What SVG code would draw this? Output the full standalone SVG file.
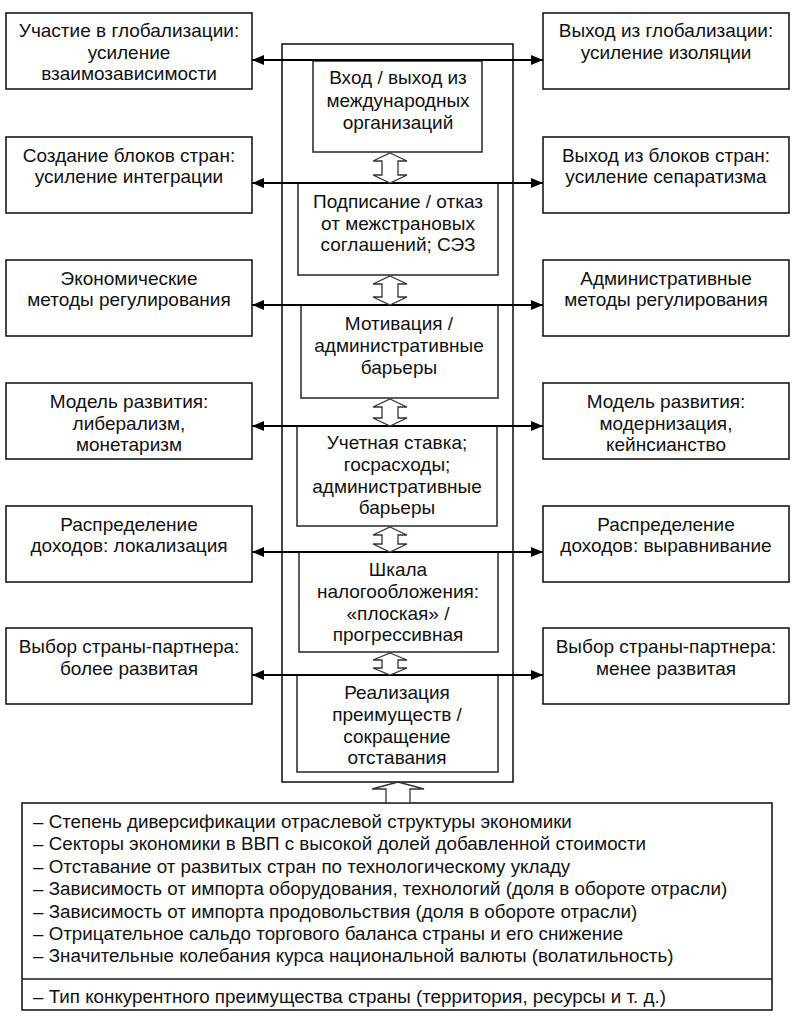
<svg xmlns="http://www.w3.org/2000/svg" width="794" height="1025" viewBox="0 0 794 1025">
<style>
.box{fill:#fff;stroke:#1a1a1a;stroke-width:1.6}
.ibox{fill:#fff;stroke:#333;stroke-width:1.6}
.frame{fill:none;stroke:#1a1a1a;stroke-width:1.6}
.t{font-family:"Liberation Sans",Arial,sans-serif;font-size:19px;fill:#111;text-anchor:middle}
.b{font-family:"Liberation Sans",Arial,sans-serif;font-size:18.8px;fill:#111}
.con{stroke:#000;stroke-width:2;fill:none;marker-start:url(#ah);marker-end:url(#ah)}
.hol{fill:#fff;stroke:#333;stroke-width:1.3}
</style>
<defs>
<marker id="ah" viewBox="0 0 12 10" refX="12" refY="5" markerWidth="12" markerHeight="10" markerUnits="userSpaceOnUse" orient="auto-start-reverse">
<path d="M0,0 L12,5 L0,10 Z" fill="#000"/>
</marker>
</defs>
<rect width="794" height="1025" fill="#fff"/>

<rect id="frame" class="frame" x="282" y="44" width="231" height="738"/>

<g id="left1"><rect class="box" x="6" y="13" width="246" height="76"/>
<text class="t" x="129" y="37">Участие в глобализации:</text><text class="t" x="129" y="59">усиление</text><text class="t" x="129" y="80">взаимозависимости</text></g>
<g id="left2"><rect class="box" x="6" y="137" width="246" height="76"/>
<text class="t" x="129" y="162">Создание блоков стран:</text><text class="t" x="129" y="183">усиление интеграции</text></g>
<g id="left3"><rect class="box" x="6" y="260" width="246" height="76"/>
<text class="t" x="129" y="285">Экономические</text><text class="t" x="129" y="306">методы регулирования</text></g>
<g id="left4"><rect class="box" x="6" y="383" width="246" height="76"/>
<text class="t" x="129" y="408">Модель развития:</text><text class="t" x="129" y="430">либерализм,</text><text class="t" x="129" y="451">монетаризм</text></g>
<g id="left5"><rect class="box" x="6" y="506" width="246" height="76"/>
<text class="t" x="129" y="531">Распределение</text><text class="t" x="129" y="552">доходов: локализация</text></g>
<g id="left6"><rect class="box" x="6" y="628" width="246" height="76"/>
<text class="t" x="129" y="653">Выбор страны-партнера:</text><text class="t" x="129" y="675">более развитая</text></g>

<g id="right1"><rect class="box" x="543" y="13" width="246" height="76"/>
<text class="t" x="666" y="37">Выход из глобализации:</text><text class="t" x="666" y="59">усиление изоляции</text></g>
<g id="right2"><rect class="box" x="543" y="137" width="246" height="76"/>
<text class="t" x="666" y="162">Выход из блоков стран:</text><text class="t" x="666" y="183">усиление сепаратизма</text></g>
<g id="right3"><rect class="box" x="543" y="260" width="246" height="76"/>
<text class="t" x="666" y="285">Административные</text><text class="t" x="666" y="306">методы регулирования</text></g>
<g id="right4"><rect class="box" x="543" y="383" width="246" height="76"/>
<text class="t" x="666" y="408">Модель развития:</text><text class="t" x="666" y="430">модернизация,</text><text class="t" x="666" y="451">кейнсианство</text></g>
<g id="right5"><rect class="box" x="543" y="506" width="246" height="76"/>
<text class="t" x="666" y="531">Распределение</text><text class="t" x="666" y="552">доходов: выравнивание</text></g>
<g id="right6"><rect class="box" x="543" y="628" width="246" height="76"/>
<text class="t" x="666" y="653">Выбор страны-партнера:</text><text class="t" x="666" y="675">менее развитая</text></g>

<g id="mid1"><rect class="ibox" x="313" y="61" width="169" height="91"/>
<text class="t" x="398" y="84">Вход / выход из</text><text class="t" x="398" y="107">международных</text><text class="t" x="398" y="129">организаций</text></g>
<g id="mid2"><rect class="ibox" x="298" y="183" width="200" height="92"/>
<text class="t" x="398" y="208">Подписание / отказ</text><text class="t" x="398" y="230">от межстрановых</text><text class="t" x="398" y="251">соглашений; СЭЗ</text></g>
<g id="mid3"><rect class="ibox" x="301" y="305" width="197" height="93"/>
<text class="t" x="399" y="330">Мотивация /</text><text class="t" x="399" y="352">административные</text><text class="t" x="399" y="374">барьеры</text></g>
<g id="mid4"><rect class="ibox" x="297" y="426" width="200" height="100"/>
<text class="t" x="397" y="449">Учетная ставка;</text><text class="t" x="397" y="471">госрасходы;</text><text class="t" x="397" y="493">административные</text><text class="t" x="397" y="514">барьеры</text></g>
<g id="mid5"><rect class="ibox" x="299" y="552" width="199" height="100"/>
<text class="t" x="398" y="576">Шкала</text><text class="t" x="398" y="598">налогообложения:</text><text class="t" x="398" y="620">«плоская» /</text><text class="t" x="398" y="641">прогрессивная</text></g>
<g id="mid6"><rect class="ibox" x="297" y="675" width="201" height="97"/>
<text class="t" x="397" y="699">Реализация</text><text class="t" x="397" y="721">преимуществ /</text><text class="t" x="397" y="743">сокращение</text><text class="t" x="397" y="764">отставания</text></g>

<g id="factors"><rect class="box" x="22" y="803" width="750" height="207"/>
<line x1="22" y1="979" x2="772" y2="979" stroke="#1a1a1a" stroke-width="1.6"/>
<text class="b" x="33" y="828">– Степень диверсификации отраслевой структуры экономики</text>
<text class="b" x="33" y="850">– Секторы экономики в ВВП с высокой долей добавленной стоимости</text>
<text class="b" x="33" y="873">– Отставание от развитых стран по технологическому укладу</text>
<text class="b" x="33" y="895">– Зависимость от импорта оборудования, технологий (доля в обороте отрасли)</text>
<text class="b" x="33" y="918">– Зависимость от импорта продовольствия (доля в обороте отрасли)</text>
<text class="b" x="33" y="940">– Отрицательное сальдо торгового баланса страны и его снижение</text>
<text class="b" x="33" y="962">– Значительные колебания курса национальной валюты (волатильность)</text>
<text class="b" x="33" y="1003">– Тип конкурентного преимущества страны (территория, ресурсы и т. д.)</text>
</g>

<g id="connectors">
<line class="con" x1="252" y1="60" x2="543" y2="60"/>
<line class="con" x1="252" y1="183" x2="543" y2="183"/>
<line class="con" x1="252" y1="305" x2="543" y2="305"/>
<line class="con" x1="252" y1="426" x2="543" y2="426"/>
<line class="con" x1="252" y1="552" x2="543" y2="552"/>
<line class="con" x1="252" y1="675" x2="543" y2="675"/>
<path class="hol" d="M390,153 L407,161 L398,161 L398,175 L407,175 L390,183 L373,175 L382,175 L382,161 L373,161 Z"/>
<path class="hol" d="M390,276 L407,284 L398,284 L398,297 L407,297 L390,305 L373,297 L382,297 L382,284 L373,284 Z"/>
<path class="hol" d="M390,399 L407,407 L398,407 L398,418 L407,418 L390,426 L373,418 L382,418 L382,407 L373,407 Z"/>
<path class="hol" d="M390,527 L407,535 L398,535 L398,544 L407,544 L390,552 L373,544 L382,544 L382,535 L373,535 Z"/>
<path class="hol" d="M390,653 L407,660 L398,660 L398,668 L407,668 L390,675 L373,668 L382,668 L382,660 L373,660 Z"/>
<path class="hol" d="M398,782 L424,789 L410,789 L410,803 L386,803 L386,789 L372,789 Z"/>
</g>
</svg>
